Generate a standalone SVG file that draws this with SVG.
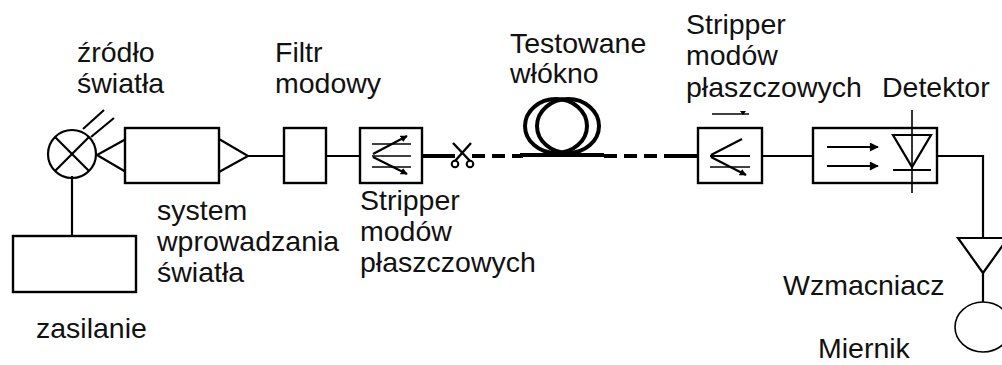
<svg xmlns="http://www.w3.org/2000/svg" width="1002" height="365" viewBox="0 0 1002 365">
<style>
  .ln{stroke:#000;stroke-width:2.2;fill:none}
  .thk{stroke:#000;stroke-width:4;fill:none}
  .box{stroke:#000;stroke-width:2.4;fill:#fff}
  .thin{stroke:#000;stroke-width:1.6;fill:none}
  text{font-family:"Liberation Sans",Arial,sans-serif;font-size:28.5px;fill:#111}
</style>
<defs>
  <marker id="ah" viewBox="0 0 10 10" refX="9" refY="5" markerWidth="7" markerHeight="7" markerUnits="userSpaceOnUse" orient="auto">
    <path d="M0,0 L10,5 L0,10 z" fill="#000"/>
  </marker>
  <marker id="ah2" viewBox="0 0 10 10" refX="9" refY="5" markerWidth="10" markerHeight="9" markerUnits="userSpaceOnUse" orient="auto">
    <path d="M0,0 L10,5 L0,10 z" fill="#000"/>
  </marker>
</defs>
<rect width="1002" height="365" fill="#fff"/>

<g id="connectors">
  <line class="ln" x1="72" y1="176" x2="72" y2="236"/>
  <line class="ln" x1="248" y1="156" x2="284" y2="156"/>
  <line class="ln" x1="326" y1="156" x2="360" y2="156"/>
  <line class="thk" x1="422" y1="156" x2="455" y2="156"/>
  <path class="thk" d="M472,156 H523" stroke-dasharray="13 7"/>
  <line class="thk" x1="520" y1="155" x2="604" y2="155"/>
  <path class="thk" d="M604,156 H672" stroke-dasharray="13 7"/>
  <line class="thk" x1="670" y1="156" x2="698" y2="156"/>
  <line class="ln" x1="762" y1="156" x2="813" y2="156"/>
  <polyline class="ln" points="937,156 983,156 983,238"/>
  <line class="ln" x1="983" y1="273" x2="983" y2="302"/>
  <line class="thin" x1="712" y1="114" x2="749" y2="114"/>
  <path d="M740,111 L746,111 L743,115 z" fill="#000"/>
</g>

<g id="lamp">
  <circle class="ln" cx="72" cy="154" r="24"/>
  <line class="ln" x1="55" y1="137" x2="89" y2="171"/>
  <line class="ln" x1="89" y1="137" x2="55" y2="171"/>
  <line class="ln" x1="83" y1="129" x2="104" y2="110"/>
  <line class="ln" x1="91" y1="137" x2="114" y2="118"/>
  <text x="77" y="62">źródło</text>
  <text x="77" y="93">światła</text>
</g>

<g id="zasilanie">
  <rect class="box" x="13" y="236" width="123" height="56"/>
  <text x="36" y="338">zasilanie</text>
</g>

<g id="system-wprowadzania">
  <polyline class="ln" points="126,139 97,155 126,172"/>
  <rect class="box" x="125" y="128" width="94" height="55"/>
  <polyline class="ln" points="219,139 248,156 219,172"/>
  <text x="157" y="220">system</text>
  <text x="157" y="251">wprowadzania</text>
  <text x="157" y="282">światła</text>
</g>

<g id="filtr">
  <rect class="box" x="284" y="128" width="42" height="55"/>
  <text x="275" y="62">Filtr</text>
  <text x="275" y="93">modowy</text>
</g>

<g id="stripper1">
  <rect class="box" x="360" y="128" width="62" height="55"/>
  <line class="thin" x1="372" y1="144" x2="411" y2="144"/>
  <line class="thin" x1="372" y1="156" x2="411" y2="156"/>
  <line class="thin" x1="372" y1="167" x2="411" y2="167"/>
  <line class="ln" x1="373" y1="154" x2="407" y2="136" marker-end="url(#ah)"/>
  <line class="ln" x1="373" y1="157" x2="407" y2="174" marker-end="url(#ah)"/>
  <text x="360" y="210">Stripper</text>
  <text x="360" y="241">modów</text>
  <text x="360" y="272">płaszczowych</text>
</g>

<g id="nozyczki">
  <path d="M453,143 L470,161 M471,143 L455,161" stroke="#000" stroke-width="2.4" fill="none"/>
  <circle cx="455" cy="164" r="3.3" stroke="#000" stroke-width="2" fill="#fff"/>
  <circle cx="470" cy="164" r="3.3" stroke="#000" stroke-width="2" fill="#fff"/>
</g>

<g id="wlokno">
  <ellipse cx="556" cy="126" rx="31" ry="27" stroke="#000" stroke-width="4" fill="none"/>
  <ellipse cx="568" cy="126" rx="31" ry="27" stroke="#000" stroke-width="4" fill="none"/>
  <text x="510" y="53">Testowane</text>
  <text x="510" y="83">włókno</text>
</g>

<g id="stripper2">
  <rect class="box" x="698" y="128" width="64" height="55"/>
  <line class="ln" x1="710" y1="156" x2="750" y2="156"/>
  <line class="thin" x1="710" y1="167" x2="750" y2="167"/>
  <line class="ln" x1="711" y1="155" x2="742" y2="139"/>
  <line class="ln" x1="711" y1="157" x2="746" y2="175" marker-end="url(#ah)"/>
  <text x="686" y="34">Stripper</text>
  <text x="686" y="65">modów</text>
  <text x="686" y="97">płaszczowych</text>
</g>

<g id="detektor">
  <rect class="box" x="813" y="128" width="124" height="55"/>
  <line class="ln" x1="827" y1="147" x2="878" y2="147" marker-end="url(#ah2)"/>
  <line class="ln" x1="827" y1="166" x2="878" y2="166" marker-end="url(#ah2)"/>
  <path class="ln" d="M893,135 L931,135 L912,167 z"/>
  <line class="ln" x1="893" y1="170" x2="931" y2="170"/>
  <line class="thin" x1="912" y1="110" x2="912" y2="193"/>
  <text x="882" y="97">Detektor</text>
</g>

<g id="wzmacniacz">
  <path class="ln" d="M958,238 L1008,238 L983,273 z"/>
  <text x="783" y="295">Wzmacniacz</text>
</g>

<g id="miernik">
  <ellipse cx="983" cy="327" rx="28" ry="25" stroke="#000" stroke-width="1.6" fill="none"/>
  <text x="818" y="358">Miernik</text>
</g>
</svg>
